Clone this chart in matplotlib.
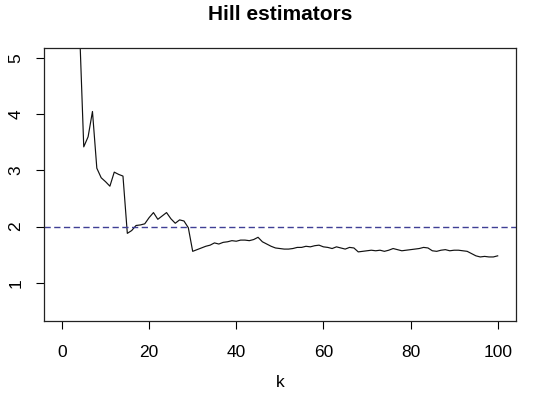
import matplotlib
matplotlib.use('Agg')
import matplotlib.pyplot as plt

# Hill estimates, k = 1..100
k = list(range(1, 101))
hill = [14.0, 9.5, 7.0, 5.6, 3.42, 3.6, 4.05, 3.04, 2.87, 2.80,
        2.72, 2.97, 2.93, 2.90, 1.88, 1.93, 2.02, 2.03, 2.05, 2.16,
        2.25, 2.13, 2.19, 2.25, 2.14, 2.06, 2.12, 2.10, 1.98, 1.56,
        1.59, 1.62, 1.65, 1.67, 1.71, 1.69, 1.72, 1.73, 1.75, 1.74,
        1.76, 1.76, 1.75, 1.77, 1.81, 1.73, 1.69, 1.65, 1.62, 1.61,
        1.60, 1.60, 1.61, 1.63, 1.63, 1.65, 1.64, 1.66, 1.67, 1.64,
        1.63, 1.61, 1.64, 1.62, 1.60, 1.63, 1.62, 1.55, 1.56, 1.57,
        1.58, 1.57, 1.58, 1.56, 1.58, 1.61, 1.59, 1.57, 1.58, 1.59,
        1.60, 1.61, 1.63, 1.62, 1.57, 1.56, 1.58, 1.59, 1.57, 1.58,
        1.58, 1.57, 1.56, 1.52, 1.48, 1.46, 1.47, 1.46, 1.46, 1.48]
ref_level = 2
x_ticks = [0, 20, 40, 60, 80, 100]
y_ticks = [1, 2, 3, 4, 5]

plt.rcParams['font.family'] = ['Liberation Sans', 'DejaVu Sans']

fig = plt.figure(figsize=(5.5, 3.98), dpi=100)
ax = fig.add_axes([0.0805, 0.1935, 0.8571, 0.6859])

ax.plot(k, hill, color='#111111', lw=0.85)
ax.axhline(ref_level, color='#3f3f95', lw=1.0, dashes=(4.5, 2.5))

ax.set_xlim(-4.06, 104.13)
ax.set_ylim(0.32, 5.18)
ax.set_xticks(x_ticks)
ax.set_yticks(y_ticks)
ax.tick_params(axis='both', direction='out', length=6, width=0.8,
               labelsize=12.5, colors='black')
ax.tick_params(axis='x', pad=11)
ax.tick_params(axis='y', pad=9)
for lab in ax.get_yticklabels():
    lab.set_rotation(90)
    lab.set_va('center')

for s in ax.spines.values():
    s.set_linewidth(0.9)
    s.set_color('#222222')

ax.set_xlabel('k', fontsize=12.5, labelpad=11)
ax.set_title('Hill estimators', fontsize=15, fontweight='bold', pad=20)

plt.savefig('out.png', dpi=100)
